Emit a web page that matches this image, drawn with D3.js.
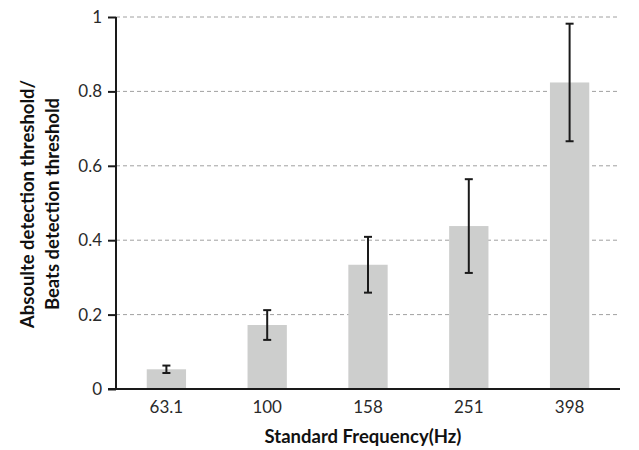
<!DOCTYPE html>
<html>
<head>
<meta charset="utf-8">
<script src="https://cdn.jsdelivr.net/npm/d3@7"></script>
<style>
  body { margin: 0; background: #fff; }
  text { font-family: Lato, "Open Sans", sans-serif; }
</style>
</head>
<body>
<div id="chart"></div>
<script>
// data
var categories = ["63.1", "100", "158", "251", "398"];
var means = [0.053, 0.172, 0.334, 0.438, 0.824];
var errors = [0.010, 0.040, 0.075, 0.126, 0.158];
var yTicks = [0, 0.2, 0.4, 0.6, 0.8, 1];

var margin = { top: 17, right: 19, bottom: 61, left: 116 },
    width = 639 - margin.left - margin.right,
    height = 450 - margin.top - margin.bottom;

var svg = d3.select("#chart")
    .append("svg")
    .attr("width", 639)
    .attr("height", 450)
    .append("g")
    .attr("transform", "translate(" + margin.left + "," + margin.top + ")");

var x = d3.scaleBand().domain(categories).range([0, width]).paddingInner(0.61).paddingOuter(0.305);
var y = d3.scaleLinear().domain([0, 1]).range([height, 0]);

// dashed gridlines
svg.append("g")
    .selectAll("line")
    .data(yTicks.filter(function (d) { return d > 0; }))
    .enter()
    .append("line")
    .attr("x1", 0)
    .attr("x2", width)
    .attr("y1", function (d) { return y(d); })
    .attr("y2", function (d) { return y(d); })
    .attr("stroke", "#a0a0a0")
    .attr("stroke-width", 1)
    .attr("stroke-dasharray", "4,3");

// bars
svg.append("g")
    .selectAll("rect")
    .data(means)
    .enter()
    .append("rect")
    .attr("x", function (d, i) { return x(categories[i]); })
    .attr("width", x.bandwidth())
    .attr("y", function (d) { return y(d); })
    .attr("height", function (d) { return height - y(d); })
    .attr("fill", "#cdcecd");

// error bars
var eb = svg.append("g")
    .selectAll("g")
    .data(means)
    .enter()
    .append("g")
    .attr("stroke", "#1a1a1a")
    .attr("stroke-width", 2);

eb.append("line")
    .attr("x1", function (d, i) { return x(categories[i]) + x.bandwidth() / 2; })
    .attr("x2", function (d, i) { return x(categories[i]) + x.bandwidth() / 2; })
    .attr("y1", function (d, i) { return y(d + errors[i]); })
    .attr("y2", function (d, i) { return y(d - errors[i]); });

[1, -1].forEach(function (s) {
    eb.append("line")
        .attr("x1", function (d, i) { return x(categories[i]) + x.bandwidth() / 2 - 4; })
        .attr("x2", function (d, i) { return x(categories[i]) + x.bandwidth() / 2 + 4; })
        .attr("y1", function (d, i) { return y(d + s * errors[i]); })
        .attr("y2", function (d, i) { return y(d + s * errors[i]); });
});

// y axis
var yAxis = svg.append("g")
    .call(d3.axisLeft(y).tickValues(yTicks).tickSize(8).tickPadding(6)
        .tickFormat(function (d) { return d === 0 || d === 1 ? d : d3.format(".1f")(d); }));
yAxis.select(".domain").attr("stroke", "#1a1a1a").attr("stroke-width", 2).attr("d", "M0," + height + "V0");
yAxis.selectAll(".tick line").attr("stroke", "#1a1a1a").attr("stroke-width", 2);
yAxis.selectAll("text").style("font-size", "17px").attr("fill", "#2a2a2a");

// x axis
var xAxis = svg.append("g")
    .attr("transform", "translate(0," + height + ")")
    .call(d3.axisBottom(x).tickSize(0).tickPadding(12));
xAxis.select(".domain").attr("stroke", "#1a1a1a").attr("stroke-width", 2).attr("d", "M-8,0H" + width);
xAxis.selectAll("text").style("font-size", "17px").attr("fill", "#2a2a2a");

// axis titles
svg.append("text")
    .attr("x", width / 2 - 5)
    .attr("y", height + 54)
    .attr("text-anchor", "middle")
    .style("font-size", "18.5px")
    .style("font-weight", "bold")
    .attr("fill", "#111")
    .text("Standard Frequency(Hz)");

var yt = svg.append("text")
    .attr("transform", "translate(" + (-margin.left + 34) + "," + 187 + ") rotate(-90)")
    .attr("text-anchor", "middle")
    .style("font-size", "18.5px")
    .style("font-weight", "bold")
    .attr("fill", "#111");
yt.append("tspan").attr("x", 0).attr("dy", 0).text("Absoulte detection threshold/");
yt.append("tspan").attr("x", 0).attr("dy", 25).text("Beats detection threshold");
</script>
</body>
</html>
